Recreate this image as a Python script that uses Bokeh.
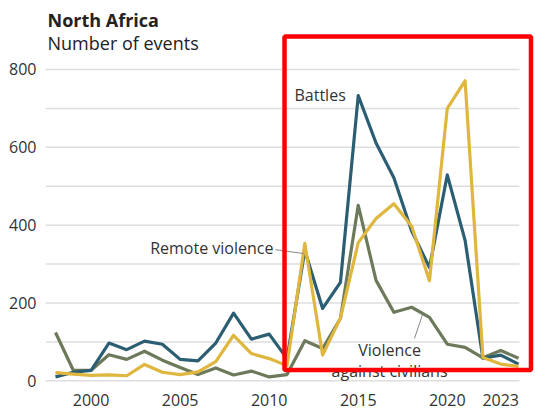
from bokeh.plotting import figure
from bokeh.models import Range1d, FixedTicker, Label, BoxAnnotation, ColumnDataSource
from bokeh.embed import file_html
from bokeh.resources import INLINE

# ---- data ----
years = list(range(1998, 2025))
battles = [10, 22, 27, 97, 80, 102, 94, 55, 51, 97, 174, 107, 120, 57, 335,
           186, 253, 733, 611, 522, 385, 291, 529, 361, 58, 66, 43]
remote_violence = [21, 17, 14, 15, 13, 42, 22, 16, 23, 49, 117, 70, 57, 39, 353,
                   66, 161, 355, 417, 455, 397, 257, 700, 771, 60, 43, 37]
violence_civilians = [124, 27, 27, 67, 55, 76, 53, 34, 16, 33, 15, 25, 10, 16, 103,
                      83, 160, 451, 258, 176, 189, 163, 94, 86, 59, 78, 58]

x_ticks = [2000, 2005, 2010, 2015, 2020, 2023]
y_ticks = [0, 200, 400, 600, 800]
y_grid = [0, 100, 200, 300, 400, 500, 600, 700, 800]

title = "North Africa"
subtitle = "Number of events"

# plotted area extent (data coordinates) used for the horizontal grid lines
grid_x_start = 1997.4385
grid_x_end = 2024.05

# highlight box (data coordinates)
highlight = dict(left=2010.86, right=2024.70, bottom=28, top=885)

# label leader lines (data coordinates)
leader_x0 = [2010.35, 2018.16]
leader_y0 = [337, 109]
leader_x1 = [2011.93, 2018.61]
leader_y1 = [327, 170]

BLUE = "#2b5e72"
YELLOW = "#dfb63e"
GREEN = "#6c7a5b"
TEXT = "#333333"
FONT = "Open Sans"

p = figure(width=535, height=414,
           x_range=Range1d(1997.4385, 2024.954), y_range=Range1d(-12.1, 977.3),
           output_backend="svg", toolbar_location=None,
           min_border_left=45, min_border_right=0, min_border_top=0, min_border_bottom=29)
p.title.visible = False
p.outline_line_color = None
p.background_fill_color = "white"
p.border_fill_color = "white"

# horizontal grid lines
p.segment(x0=[grid_x_start] * len(y_grid), y0=y_grid,
          x1=[grid_x_end] * len(y_grid), y1=y_grid,
          line_color="#dedede", line_width=1.5)

src = ColumnDataSource(dict(year=years, battles=battles, remote=remote_violence,
                            civ=violence_civilians))

p.line("year", "civ", source=src, line_color=GREEN, line_width=3.2, line_join="round")
p.line("year", "battles", source=src, line_color=BLUE, line_width=3.2, line_join="round")
p.line("year", "remote", source=src, line_color=YELLOW, line_width=3.2, line_join="round")

# axes
p.xgrid.visible = False
p.ygrid.visible = False

p.xaxis.ticker = FixedTicker(ticks=x_ticks)
p.yaxis.ticker = FixedTicker(ticks=y_ticks)
for ax in (p.xaxis, p.yaxis):
    ax.axis_line_color = None
    ax.major_tick_line_color = None
    ax.minor_tick_line_color = None
    ax.major_tick_out = 0
    ax.major_tick_in = 0
    ax.major_label_text_font = FONT
    ax.major_label_text_font_size = "16px"
    ax.major_label_text_color = TEXT
p.xaxis.major_label_standoff = 8
p.yaxis.major_label_standoff = 9

# leader lines
p.segment(x0=leader_x0, y0=leader_y0, x1=leader_x1, y1=leader_y1,
          line_color="#888888", line_width=1)

# series labels
p.add_layout(Label(x=2011.42, y=735, text="Battles", text_align="left",
                   text_baseline="middle", text_font=FONT, text_font_size="16px",
                   text_color=TEXT))
p.add_layout(Label(x=2010.24, y=342, text="Remote violence", text_align="right",
                   text_baseline="middle", text_font=FONT, text_font_size="16px",
                   text_color=TEXT))
p.add_layout(Label(x=2016.76, y=78, text="Violence", text_align="center",
                   text_baseline="middle", text_font=FONT, text_font_size="16px",
                   text_color=TEXT))
p.add_layout(Label(x=2016.76, y=26, text="against civilians", text_align="center",
                   text_baseline="middle", text_font=FONT, text_font_size="16px",
                   text_color=TEXT))

# title / subtitle
p.add_layout(Label(x=1997.551, y=928, text=title,
                   text_baseline="middle", text_font=FONT, text_font_size="18px",
                   text_font_style="bold", text_color="#222222"))
p.add_layout(Label(x=1997.551, y=867, text=subtitle,
                   text_baseline="middle", text_font=FONT, text_font_size="18px",
                   text_color="#222222"))

# highlight box
p.add_layout(BoxAnnotation(fill_alpha=0, fill_color=None, line_color="#ff0000",
                           line_width=4.5, line_alpha=1, **highlight))

open("out.html", "w").write(file_html(p, INLINE))
